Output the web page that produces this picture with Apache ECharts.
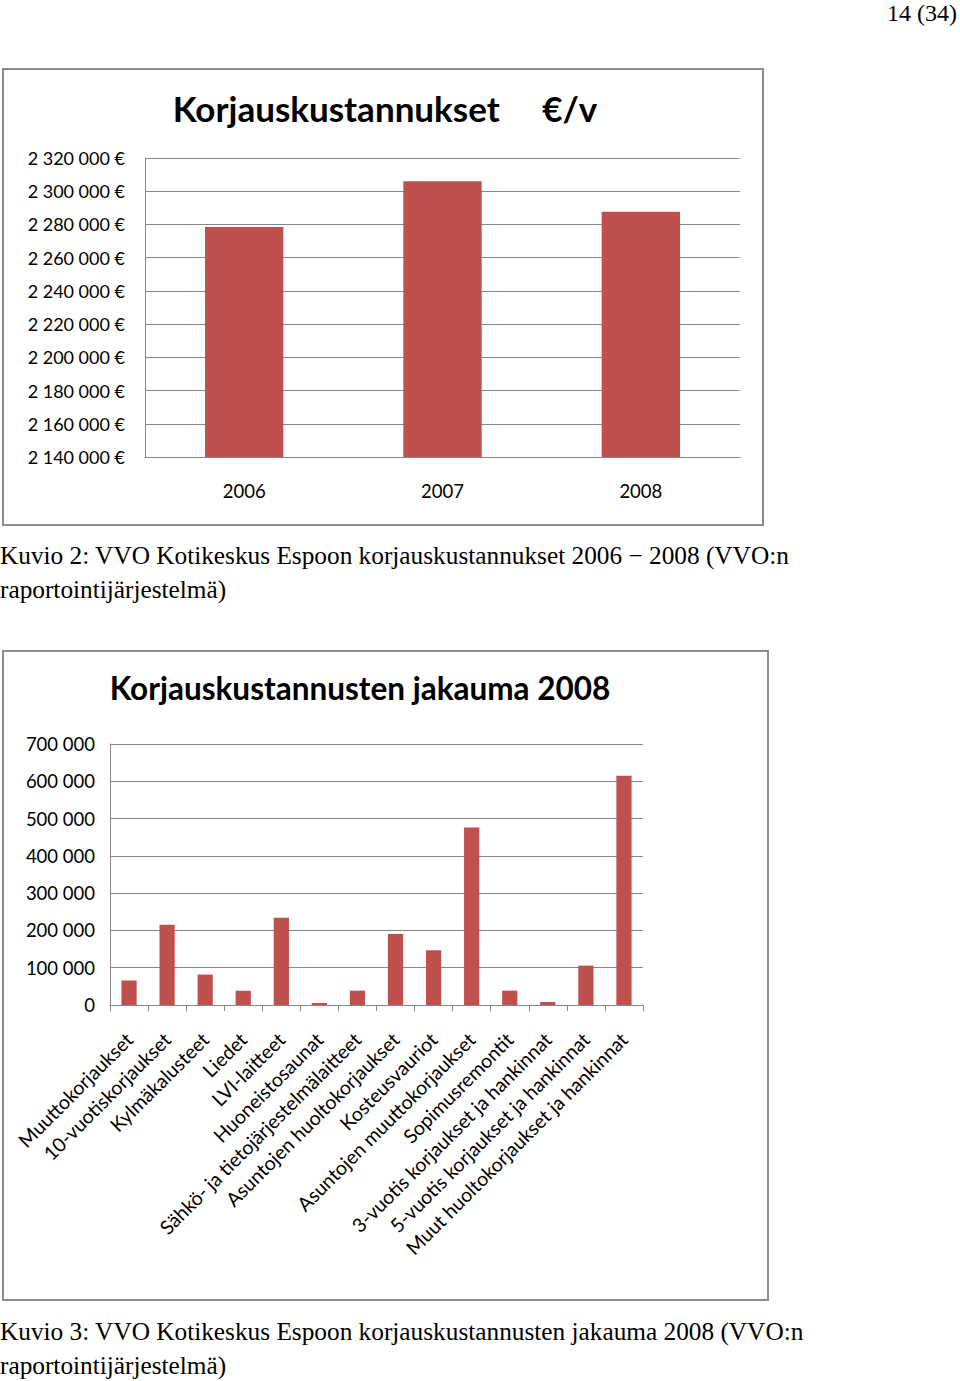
<!DOCTYPE html>
<html>
<head>
<meta charset="utf-8">
<script src="https://cdn.jsdelivr.net/npm/echarts@6/dist/echarts.min.js"></script>
<style>
html,body{margin:0;padding:0;background:#fff;}
#main{width:960px;height:1381px;}
</style>
</head>
<body>
<div id="main"></div>
<script>
// Chart 1 data
const years = ['2006', '2007', '2008'];
const yearCosts = [2278500, 2306000, 2287700];
const costTicks = { min: 2140000, max: 2320000, interval: 20000 };

// Chart 2 data
const categories = [
  'Muuttokorjaukset',
  '10-vuotiskorjaukset',
  'Kylmäkalusteet',
  'Liedet',
  'LVI-laitteet',
  'Huoneistosaunat',
  'Sähkö- ja tietojärjestelmälaitteet',
  'Asuntojen huoltokorjaukset',
  'Kosteusvauriot',
  'Asuntojen muuttokorjaukset',
  'Sopimusremontit',
  '3-vuotis korjaukset ja hankinnat',
  '5-vuotis korjaukset ja hankinnat',
  'Muut huoltokorjaukset ja hankinnat'
];
const categoryCosts = [65400, 214900, 81500, 38500, 233700, 5400, 38500, 190700, 146800, 476300, 38500, 8000, 105600, 615000];
const distTicks = { min: 0, max: 700000, interval: 100000 };

const title1 = 'Korjauskustannukset     €/v';
const title2 = 'Korjauskustannusten jakauma 2008';
const caption1 = ['Kuvio 2: VVO Kotikeskus Espoon korjauskustannukset 2006 − 2008 (VVO:n', 'raportointijärjestelmä)'];
const caption3 = ['Kuvio 3: VVO Kotikeskus Espoon korjauskustannusten jakauma 2008 (VVO:n', 'raportointijärjestelmä)'];
const pageNo = '14 (34)';

function fmt(v) {
  return String(v).replace(/\B(?=(\d{3})+(?!\d))/g, '\u00a0');
}

const gridColor = '#878787';
const barColor = '#C0504D';
const sansFont = 'Lato';
const serifFont = '"Liberation Serif", "Times New Roman", serif';

const chart = echarts.init(document.getElementById('main'), null, { renderer: 'svg' });
chart.setOption({
  animation: false,
  backgroundColor: '#fff',
  title: [
    {
      text: title1, left: 380, top: 103, textAlign: 'center', textVerticalAlign: 'middle',
      textStyle: { fontFamily: sansFont, fontWeight: 'bold', fontSize: 35, color: '#000' }
    },
    {
      text: title2, left: 355, top: 683, textAlign: 'center', textVerticalAlign: 'middle',
      textStyle: { fontFamily: sansFont, fontWeight: 'bold', fontSize: 31.5, color: '#000' }
    }
  ],
  grid: [
    { left: 145, top: 158, width: 595, height: 299, containLabel: false },
    { left: 110, top: 744, width: 533, height: 261, containLabel: false }
  ],
  xAxis: [
    {
      gridIndex: 0, type: 'category', data: years,
      axisLine: { show: true, lineStyle: { color: gridColor, width: 1 } },
      axisTick: { show: false },
      axisLabel: { color: '#000', fontFamily: sansFont, fontSize: 18.5, margin: 24 }
    },
    {
      gridIndex: 1, type: 'category', data: categories,
      axisLine: { show: true, lineStyle: { color: gridColor, width: 1 } },
      axisTick: { show: true, length: 6, lineStyle: { color: gridColor } },
      axisLabel: { color: '#000', fontFamily: sansFont, fontSize: 19.5, rotate: 45, margin: 31, interval: 0 }
    }
  ],
  yAxis: [
    {
      gridIndex: 0, type: 'value', min: costTicks.min, max: costTicks.max, interval: costTicks.interval,
      axisLine: { show: true, lineStyle: { color: gridColor, width: 1 } },
      axisTick: { show: false },
      splitLine: { show: true, lineStyle: { color: gridColor, width: 1 } },
      axisLabel: { color: '#000', fontFamily: sansFont, fontSize: 18, margin: 20, formatter: v => fmt(v) + '\u00a0€' }
    },
    {
      gridIndex: 1, type: 'value', min: distTicks.min, max: distTicks.max, interval: distTicks.interval,
      axisLine: { show: true, lineStyle: { color: gridColor, width: 1 } },
      axisTick: { show: false },
      splitLine: { show: true, lineStyle: { color: gridColor, width: 1 } },
      axisLabel: { color: '#000', fontFamily: sansFont, fontSize: 18.5, margin: 15, formatter: v => fmt(v) }
    }
  ],
  series: [
    {
      type: 'bar', xAxisIndex: 0, yAxisIndex: 0, data: yearCosts,
      barWidth: '39.5%', itemStyle: { color: barColor }
    },
    {
      type: 'bar', xAxisIndex: 1, yAxisIndex: 1, data: categoryCosts,
      barWidth: '40%', itemStyle: { color: barColor }
    }
  ],
  graphic: [
    { type: 'rect', shape: { x: 3, y: 69, width: 760, height: 456 }, style: { fill: 'none', stroke: '#8c8c8c', lineWidth: 2 }, z: -1 },
    { type: 'rect', shape: { x: 3, y: 651, width: 765, height: 649 }, style: { fill: 'none', stroke: '#8c8c8c', lineWidth: 2 }, z: -1 },
    { type: 'text', x: 957, y: 1, style: { text: pageNo, font: '24px ' + serifFont, fill: '#000', textAlign: 'right', textVerticalAlign: 'top' } },
    { type: 'text', x: 0, y: 555, style: { text: caption1[0], font: '25.3px ' + serifFont, fill: '#000', textAlign: 'left', textVerticalAlign: 'middle' } },
    { type: 'text', x: 0, y: 589, style: { text: caption1[1], font: '25.3px ' + serifFont, fill: '#000', textAlign: 'left', textVerticalAlign: 'middle' } },
    { type: 'text', x: 0, y: 1331, style: { text: caption3[0], font: '25.3px ' + serifFont, fill: '#000', textAlign: 'left', textVerticalAlign: 'middle' } },
    { type: 'text', x: 0, y: 1365, style: { text: caption3[1], font: '25.3px ' + serifFont, fill: '#000', textAlign: 'left', textVerticalAlign: 'middle' } }
  ]
});
</script>
</body>
</html>
